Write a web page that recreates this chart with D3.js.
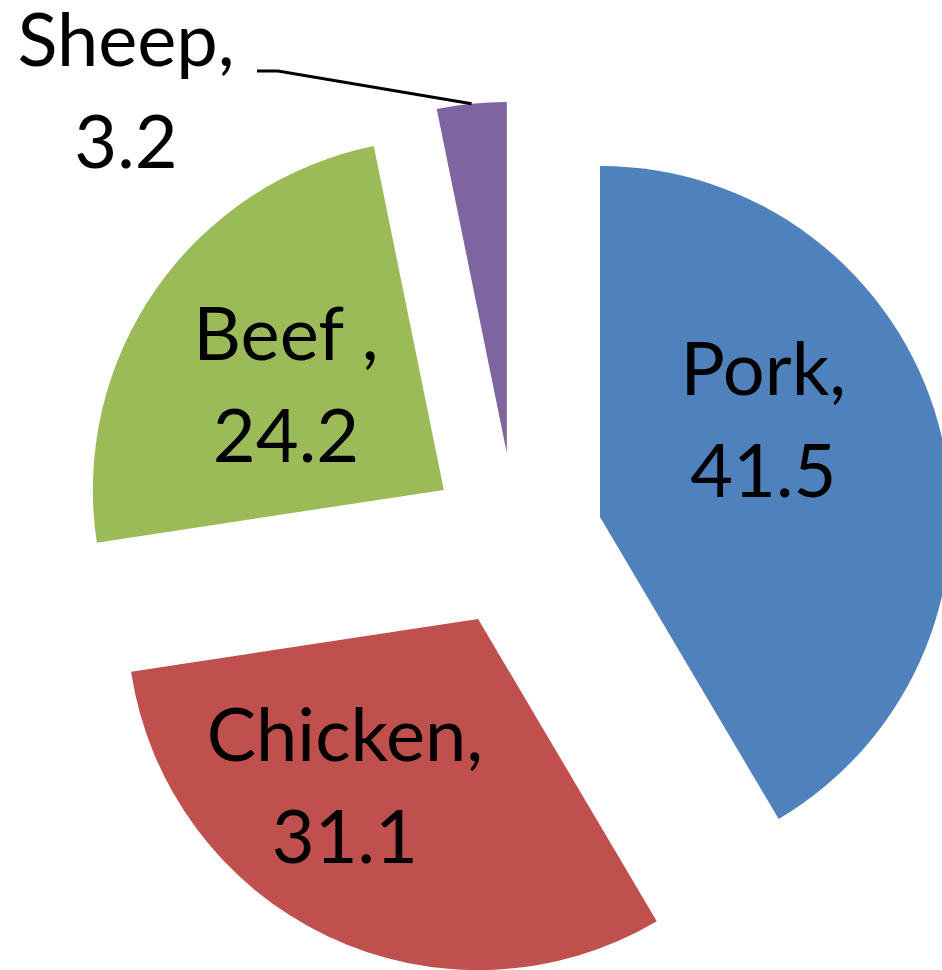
<!DOCTYPE html>
<html>
<head>
<meta charset="utf-8">
<script src="https://cdn.jsdelivr.net/npm/d3@7"></script>
<style>
  html, body { margin: 0; padding: 0; background: #fff; }
  svg { display: block; }
</style>
</head>
<body>
<svg id="chart" width="942" height="970"></svg>
<script>
// ---- data ----
const categories = ["Pork", "Chicken", "Beef ", "Sheep"];
const values = [41.5, 31.1, 24.2, 3.2];
const colors = ["#4F81BD", "#C0504D", "#9BBB59", "#8064A2"];

// ---- layout ----
const W = 942, H = 970;
const cx = 515.6, cy = 540;
const R = 351;          // pie radius
const EXPLODE = 87.5;   // slice explosion distance
const FONT = "Lato, Calibri, Carlito, 'Open Sans', sans-serif";
const FONT_SIZE = 74;
const LINE_GAP = 102;
// label offsets from the slice's mid-radius point (inside labels)
const labelNudge = [[-6, -25], [-58, 34.5], [-14, 22], null];

const svg = d3.select("#chart");
const g = svg.append("g").attr("transform", `translate(${cx},${cy})`);

const data = categories.map((c, i) => ({ cat: c, value: values[i], color: colors[i] }));
const pie = d3.pie().sort(null).value(d => d.value);
const arcs = pie(data);
const arc = d3.arc().innerRadius(0).outerRadius(R);

const unit = a => [Math.sin(a), -Math.cos(a)];

arcs.forEach((a, i) => {
  const mid = (a.startAngle + a.endAngle) / 2;
  const u = unit(mid);
  const ox = u[0] * EXPLODE, oy = u[1] * EXPLODE;
  const sg = g.append("g").attr("transform", `translate(${ox},${oy})`);
  sg.append("path").attr("d", arc(a)).attr("fill", a.data.color);

  const lines = [a.data.cat + ",", String(a.data.value)];
  if (labelNudge[i]) {
    const lx = u[0] * R * 0.5 + labelNudge[i][0];
    const ly = u[1] * R * 0.5 + labelNudge[i][1];
    const t = sg.append("text")
      .attr("text-anchor", "middle")
      .attr("font-family", FONT)
      .attr("font-size", FONT_SIZE)
      .attr("fill", "#000");
    lines.forEach((s, k) => {
      t.append("tspan").attr("x", lx).attr("y", ly + (k === 0 ? -LINE_GAP / 2 : LINE_GAP / 2)).text(s);
    });
  } else {
    // outside label with leader line (Sheep)
    const end = [u[0] * R, u[1] * R];
    const abs = [cx + ox + end[0], cy + oy + end[1]];
    const labelX = 126, labelY = 116.5;
    const lineStart = [257, 71], elbow = [278, 71];
    svg.append("path")
      .attr("d", d3.line()([lineStart, elbow, abs]))
      .attr("fill", "none").attr("stroke", "#000").attr("stroke-width", 3);
    const t = svg.append("text")
      .attr("text-anchor", "middle")
      .attr("font-family", FONT)
      .attr("font-size", FONT_SIZE)
      .attr("fill", "#000");
    lines.forEach((s, k) => {
      t.append("tspan").attr("x", labelX).attr("y", labelY + (k === 0 ? -LINE_GAP / 2 : LINE_GAP / 2)).text(s);
    });
  }
});
</script>
</body>
</html>
